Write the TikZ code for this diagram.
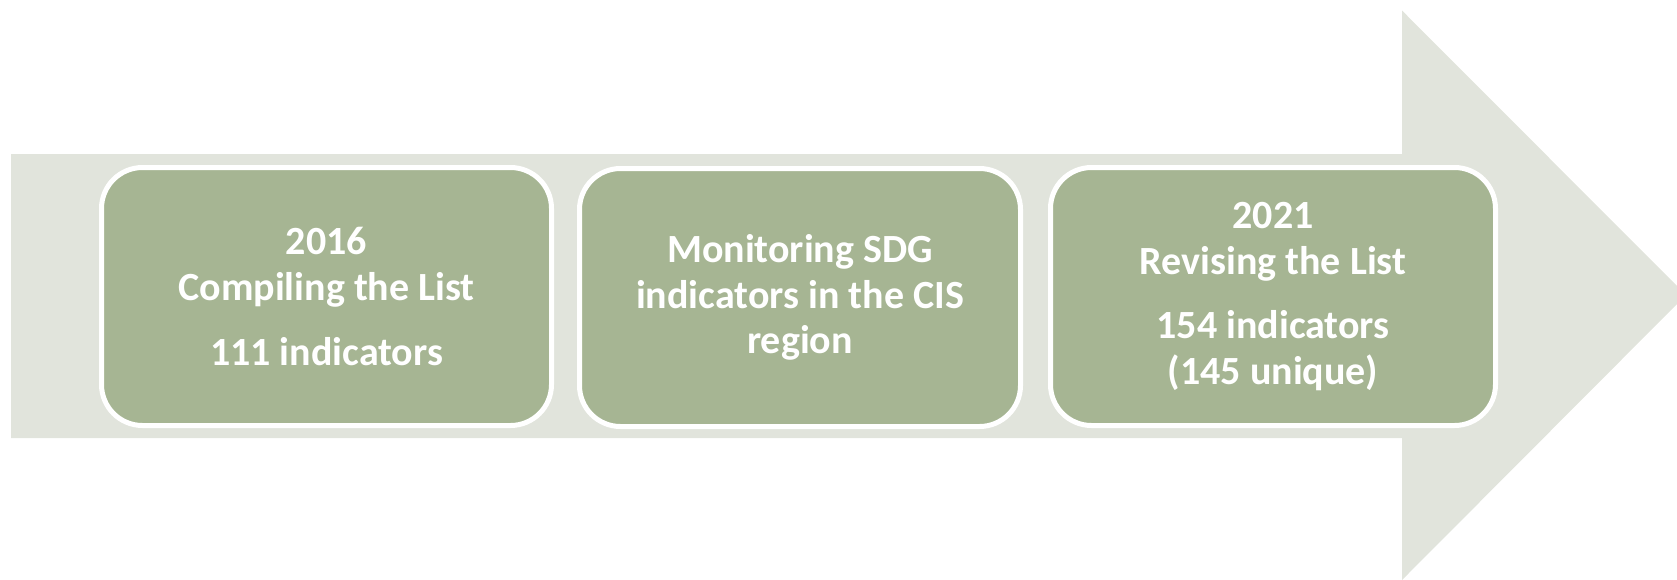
\documentclass[tikz,border=0pt]{standalone}
\usepackage{fontspec}
\setmainfont{Carlito}
\definecolor{arrowc}{HTML}{E1E4DC}
\definecolor{boxc}{HTML}{A6B593}
\tikzset{
  stagebox/.style={draw=white, line width=2.5pt, fill=boxc, rounded corners=20.5pt,
    minimum height=129pt, inner sep=0pt, align=center, text=white,
    font=\fontsize{20}{22.8}\selectfont\bfseries},
}
\begin{document}
\begin{tikzpicture}[x=0.5pt,y=-0.5pt]
\useasboundingbox (0,0) rectangle (1677,579);
\clip (0,0) rectangle (1677,579);
\fill[arrowc] (11,154) -- (1402,154) -- (1402,10.5) -- (1686,295) -- (1402,580) -- (1402,438) -- (11,438) -- cycle;
\node[stagebox, minimum width=225pt] (b1) at (326.5,296.5) {2016\\Compiling the List\\[9.5pt]111 indicators};
\node[stagebox, minimum width=220.5pt] (b2) at (800,297.5) {Monitoring SDG\\indicators in the CIS\\region};
\node[stagebox, minimum width=222.5pt] (b3) at (1273,296.5) {2021\\Revising the List\\[9.5pt]154 indicators\\(145 unique)};
\end{tikzpicture}
\end{document}
